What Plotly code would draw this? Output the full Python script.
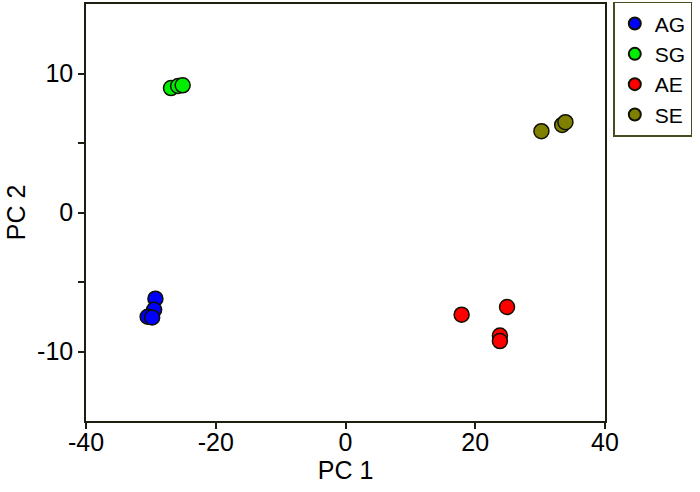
import plotly.graph_objects as go

# PCA scores
GROUPS = ["AG", "SG", "AE", "SE"]
COLORS = ["#0000ff", "#00ee00", "#ff0000", "#808000"]

AG_PC1 = [-29.3, -29.5, -30.5, -29.8]
AG_PC2 = [-6.2, -7.0, -7.5, -7.55]
SG_PC1 = [-26.9, -25.8, -25.1]
SG_PC2 = [8.95, 9.1, 9.15]
AE_PC1 = [17.9, 24.9, 23.8, 23.8]
AE_PC2 = [-7.35, -6.8, -8.85, -9.25]
SE_PC1 = [30.2, 33.4, 33.9]
SE_PC2 = [5.85, 6.3, 6.5]

X_TICKS = [-40, -20, 0, 20, 40]
X_LABELS = ["-40", "-20", "0", "20", "40"]
Y_TICKS = [-10, -5, 0, 5, 10]
Y_LABELS = ["-10", "", "0", "", "10"]

series = [(AG_PC1, AG_PC2), (SG_PC1, SG_PC2), (AE_PC1, AE_PC2), (SE_PC1, SE_PC2)]
AXIS_COLOR = "#1e1e10"
FONT = "Arial, Liberation Sans, sans-serif"

fig = go.Figure()
for name, color, (xs, ys) in zip(GROUPS, COLORS, series):
    fig.add_trace(
        go.Scatter(
            x=xs,
            y=ys,
            mode="markers",
            name=name,
            legendgroup=name,
            marker={"size": 15, "color": color, "line": {"color": "#101000", "width": 1.5}},
        )
    )

axis_common = {
    "showgrid": False,
    "zeroline": False,
    "showline": True,
    "mirror": True,
    "linecolor": AXIS_COLOR,
    "linewidth": 1.5,
    "ticks": "outside",
    "ticklen": 6,
    "tickwidth": 1.5,
    "tickcolor": AXIS_COLOR,
    "tickfont": {"family": FONT, "size": 25, "color": "black"},
}

fig.update_layout(
    width=700,
    height=492,
    paper_bgcolor="white",
    plot_bgcolor="white",
    margin={"l": 86, "r": 95, "t": 2, "b": 71},
    font={"family": FONT, "color": "black"},
    xaxis={
        **axis_common,
        "range": [-40, 40],
        "tickvals": X_TICKS,
        "ticktext": X_LABELS,
        "ticklabelstandoff": -8,
        "title": {"text": "PC 1", "font": {"size": 25}, "standoff": 0},
    },
    yaxis={
        **axis_common,
        "range": [-15, 15],
        "tickvals": Y_TICKS,
        "ticktext": Y_LABELS,
        "title": {"text": "PC 2", "font": {"size": 25}, "standoff": 4},
    },
    legend={
        "x": 1.016,
        "y": 1.005,
        "xanchor": "left",
        "yanchor": "top",
        "bordercolor": "#4a4a20",
        "borderwidth": 1.5,
        "font": {"size": 21},
        "itemsizing": "constant",
        "traceorder": "grouped",
        "tracegroupgap": 0,
    },
    showlegend=True,
)

# drop the browser's default body margin so the 700x492 figure sits at the page origin
fig.write_html(
    "out.html",
    config={"displayModeBar": False},
    post_script="document.body.style.margin='0';",
)
